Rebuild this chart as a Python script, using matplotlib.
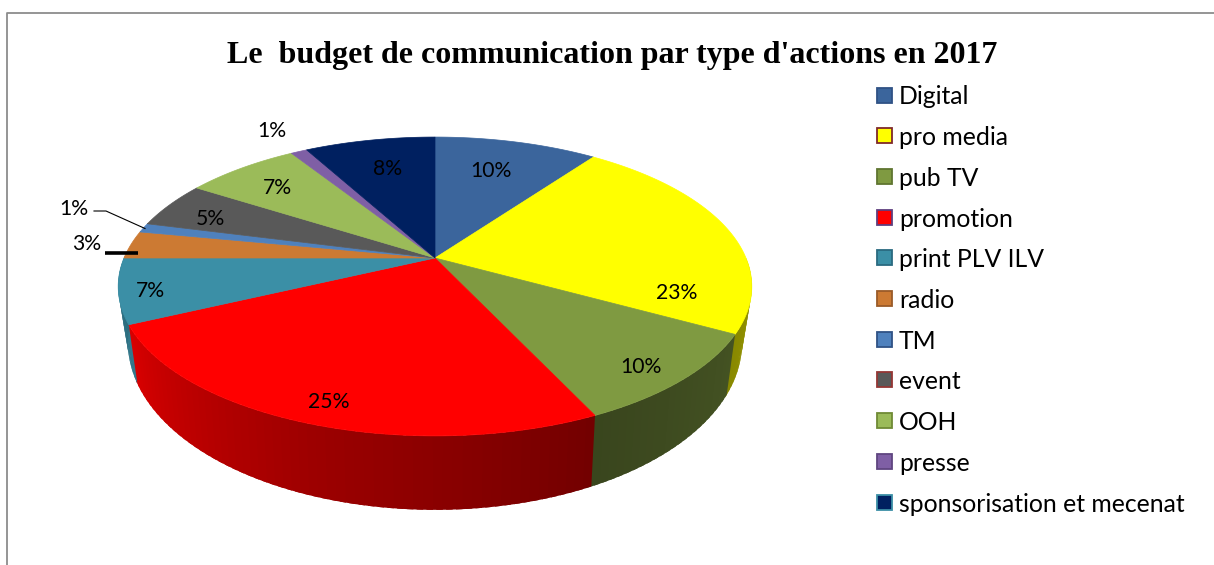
# -*- coding: utf-8 -*-
"""
Budget de communication 2017 -- camembert 3D dessine a la main avec des polygones
"""

import numpy as np
import matplotlib
matplotlib.use("Agg")
import matplotlib.pyplot as plt
from matplotlib.patches import Polygon, Rectangle

categories = ['Digital', 'pro media', 'pub TV', 'promotion', 'print PLV ILV', 'radio',
              'TM', 'event', 'OOH', 'presse', 'sponsorisation et mecenat']
values = [10, 23, 10, 25, 7, 3, 1, 5, 7, 1, 8]

colors = ['#3b659c', '#ffff00', '#7f9a41', '#ff0000', '#3b8fa6', '#cc7a33',
          '#4f81bd', '#595959', '#9bbb59', '#7f5fa5', '#002060']
edges = ['#2f5285', '#7f2a2a', '#5f7530', '#5f3f7f', '#2a6a80', '#9a5a28',
         '#2f5285', '#943634', '#6f8a35', '#5f4580', '#3b8fa6']

title = "Le  budget de communication par type d'actions en 2017"

# position of the percent labels, same order as values
label_xy = [(491, 171), (677, 293), (641, 367), (329, 402), (150, 291), (87, 244),
            (74, 209), (210, 219), (277, 188), (272, 131), (388, 169)]

# pie projection: apex, perspective and thickness
CX, CY = 435, 258
BX, AY = 311.0, 144.0
PERSP = 0.1906
BX_BOTTOM, DROP, E_BOTTOM = 288.0, 49.0, -0.043


def top(theta):
    u, v = np.sin(theta), np.cos(theta)
    w = 1 + PERSP * v
    return CX + BX * u / w, CY - AY * v / w


def bottom(theta):
    u, v = np.sin(theta), np.cos(theta)
    w = 1 + PERSP * v + E_BOTTOM
    return CX + BX_BOTTOM * u / w, CY + (DROP - AY * v) / w


def side_shade(theta_deg):
    # darker towards the lower right, lighter on the left
    return np.interp(theta_deg, [100, 125, 155, 200, 245, 270], [.58, .52, .45, .62, .85, .72])


fig = plt.figure(figsize=(12.14, 5.65), dpi=100)
ax = fig.add_axes([0, 0, 1, 1])
ax.set_xlim(0, 1214)
ax.set_ylim(565, 0)
ax.axis('off')

# frame around the chart, open at the bottom and right
ax.plot([7, 7, 1214], [565, 12.5, 12.5], color='#8c8c8c', lw=1.3)

fractions = np.cumsum([0] + values) / sum(values)
angles = fractions * 2 * np.pi

# side wall first, the top faces go over it
for i in range(len(values)):
    a0, a1 = np.degrees(angles[i]), np.degrees(angles[i + 1])
    a0, a1 = max(a0, 90), min(a1, 270)
    if a1 <= a0:
        continue
    steps = np.append(np.arange(a0, a1, 1.5), a1)
    for s0, s1 in zip(steps[:-1], steps[1:]):
        # each strip runs a bit under the next one, no seams that way
        t = np.radians(np.linspace(s0, s1 + 1.0, 4))
        xt, yt = top(t)
        xb, yb = bottom(t)
        col = np.array(matplotlib.colors.to_rgb(colors[i])) * side_shade((s0 + s1) / 2)
        ax.add_patch(Polygon(list(zip(xt, yt)) + list(zip(xb[::-1], yb[::-1])),
                             closed=True, facecolor=col, edgecolor='none'))

# top faces
for i in range(len(values)):
    t = np.linspace(angles[i], angles[i + 1], 80)
    x, y = top(t)
    pts = [(CX, CY)] + list(zip(x, y))
    ax.add_patch(Polygon(pts, closed=True, facecolor=colors[i], edgecolor=colors[i], lw=0.5))

# percent labels
for v, (lx, ly) in zip(values, label_xy):
    ax.text(lx, ly, f'{v}%', ha='center', va='center', fontsize=15.2, family='Lato', color='black')

# leader lines for the two small slices
ax.plot([94, 106, 145], [211, 211, 228.5], color='black', lw=0.8)
ax.plot([105, 138], [253, 253], color='black', lw=2.6, solid_capstyle='butt')

# legend
for i, name in enumerate(categories):
    ym = 95 + i * 40.7
    ax.add_patch(Rectangle((877, ym - 7.5), 15, 15, facecolor=colors[i], edgecolor=edges[i], lw=1.3))
    ax.text(899, ym + 9.5, name, ha='left', va='baseline', fontsize=17.8, family='Lato', color='black')

ax.text(612, 56, title, ha='center', va='center', fontsize=23, family='Liberation Serif',
        weight='bold', color='black')

fig.savefig('out.png', dpi=100)
